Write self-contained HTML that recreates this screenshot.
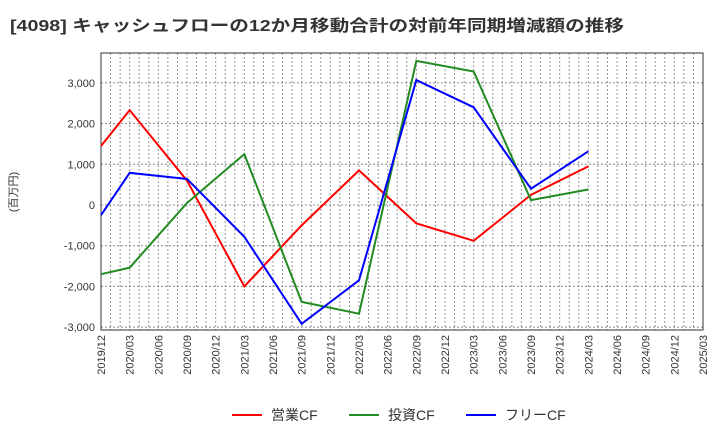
<!DOCTYPE html>
<html><head><meta charset="utf-8"><style>
body{margin:0;background:#fff;font-family:"Liberation Sans","Noto Sans CJK JP",sans-serif;}
</style></head><body>
<svg id="c" width="720" height="440" xmlns="http://www.w3.org/2000/svg">
<text x="10" y="31" font-size="16" font-weight="bold" fill="#333" textLength="614" lengthAdjust="spacingAndGlyphs" font-family="Liberation Sans, Noto Sans CJK JP, sans-serif">[4098]  キャッシュフローの12か月移動合計の対前年同期増減額の推移</text>
<text transform="translate(17,192) rotate(-90)" text-anchor="middle" font-size="11" fill="#333" font-family="Liberation Sans, Noto Sans CJK JP, sans-serif">(百万円)</text>
<g id="grid"></g><g id="axes"></g><g id="series"></g><g id="legend"></g>
</svg>
<script>
const xLabels=["2019/12","2020/03","2020/06","2020/09","2020/12","2021/03","2021/06","2021/09","2021/12","2022/03","2022/06","2022/09","2022/12","2023/03","2023/06","2023/09","2023/12","2024/03","2024/06","2024/09","2024/12","2025/03"];
const yTicks=[-3000,-2000,-1000,0,1000,2000,3000];
const yTickLabels=["-3,000","-2,000","-1,000","0","1,000","2,000","3,000"];
const pointIdx=[0,1,3,5,7,9,11,13,15,17];
const opCF=[1450,2330,600,-2000,-500,850,-450,-880,250,950];
const invCF=[-1700,-1540,50,1250,-2380,-2670,3540,3280,120,380];
const freeCF=[-250,790,640,-780,-2920,-1850,3070,2400,400,1320];
const seriesNames=["営業CF","投資CF","フリーCF"];
const L=101,R=703,T=53,B=330;
const x=i=>L+(R-L)*i/(xLabels.length-1);
const y=v=>205-v*40.7/1000;
const NS="http://www.w3.org/2000/svg";
function mk(tag,attrs,parent){const e=document.createElementNS(NS,tag);for(const k in attrs)e.setAttribute(k,attrs[k]);parent.appendChild(e);return e;}
const g=document.getElementById('grid'),a=document.getElementById('axes'),s=document.getElementById('series'),lg=document.getElementById('legend');
for(let m=1;m<(xLabels.length-1)*3;m++){const xx=L+(R-L)*m/((xLabels.length-1)*3);
const ln=mk('line',{x1:xx,x2:xx,y1:T,y2:B,stroke:'#999','stroke-dasharray':'2,2','stroke-width':1},g);

}
yTicks.forEach((v,i)=>{const ln=mk('line',{x1:L,x2:R,y1:y(v),y2:y(v),stroke:'#888','stroke-dasharray':'2,2','stroke-width':1},g);


const t=mk('text',{x:L-6,y:y(v)+4,'text-anchor':'end','font-size':11,fill:'#333'},a);t.textContent=yTickLabels[i];

});
const fr=mk('rect',{x:L,y:T,width:R-L,height:B-T,fill:'none',stroke:'#333','stroke-width':1},a);


xLabels.forEach((lb,i)=>{const t=mk('text',{transform:`translate(${x(i)+4},${B+5}) rotate(-90)`,'text-anchor':'end','font-size':11,fill:'#333'},a);t.textContent=lb;

});
const cols=["#ff0000","#228b22","#0000ff"];
[opCF,invCF,freeCF].forEach((d,k)=>{const p=mk('polyline',{points:d.map((v,i)=>x(pointIdx[i])+','+y(v)).join(' '),fill:'none',stroke:cols[k],'stroke-width':2},s);

});
const lx=[232,349,466];
seriesNames.forEach((n,k)=>{const ln=mk('line',{x1:lx[k],x2:lx[k]+30,y1:415,y2:415,stroke:cols[k],'stroke-width':2},lg);


const t=mk('text',{x:lx[k]+39,y:420,'font-size':14,fill:'#333'},lg);t.textContent=n;

});
</script>
</body></html>
